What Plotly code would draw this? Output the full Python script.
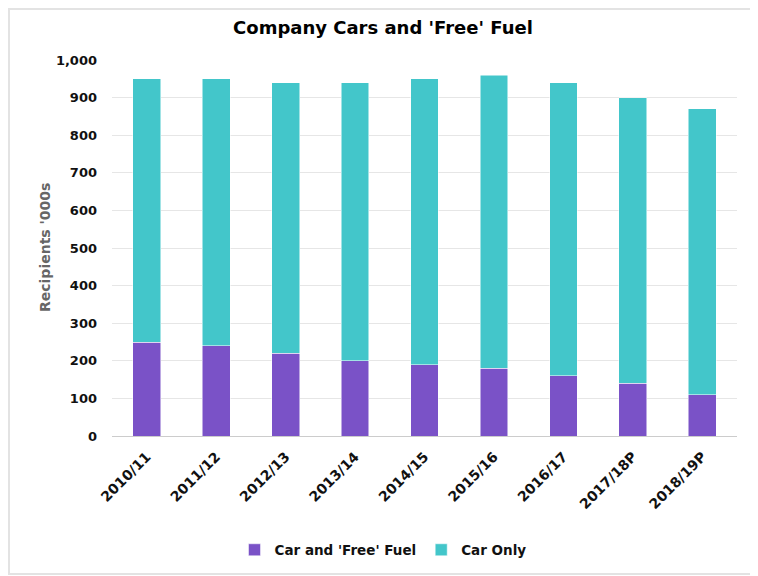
import plotly.graph_objects as go

categories = ["2010/11", "2011/12", "2012/13", "2013/14", "2014/15", "2015/16", "2016/17", "2017/18P", "2018/19P"]
car_and_fuel = [250, 240, 220, 200, 190, 180, 160, 140, 110]
car_only = [700, 710, 720, 740, 760, 780, 780, 760, 760]
y_ticks = [0, 100, 200, 300, 400, 500, 600, 700, 800, 900, 1000]

# page body adds an 8px offset, so the figure is sized to fit the window
W, H = 750, 568
L, R, T, B = 104, 21, 52, 140
pw = W - L - R
ph = H - T - B
FONT = "DejaVu Sans, sans-serif"

def px_x(x):
    return (x - L) / pw

def px_y(y):
    return (H - B - y) / ph

fig = go.Figure()
fig.add_trace(go.Bar(x=categories, y=car_and_fuel, name="Car and 'Free' Fuel",
                     marker=dict(color="#7a52c7", line=dict(color="#ffffff", width=0.5))))
fig.add_trace(go.Bar(x=categories, y=car_only, name="Car Only",
                     marker=dict(color="#43c6ca", line=dict(color="#ffffff", width=0.5))))

fig.add_shape(type="rect", xref="paper", yref="paper",
              x0=px_x(1), x1=px_x(747), y0=px_y(566), y1=px_y(1),
              line=dict(color="#e3e3e3", width=2), layer="below")

fig.add_annotation(text="<b>Recipients '000s</b>", xref="paper", yref="paper",
                   x=px_x(37), y=0.5, xanchor="center", yanchor="middle",
                   textangle=-90, showarrow=False,
                   font=dict(family=FONT, size=14, color="#666666"))

fig.update_layout(
    width=W, height=H,
    barmode="stack", bargap=0.6,
    margin=dict(l=L, r=R, t=T, b=B, autoexpand=False),
    paper_bgcolor="white", plot_bgcolor="white",
    font=dict(family=FONT, color="#111111", size=13),
    title=dict(text="<b>Company Cars and 'Free' Fuel</b>", x=0.5, xanchor="center",
               y=1 - 20 / H, yanchor="middle", font=dict(family=FONT, size=18, color="#000000")),
    xaxis=dict(tickangle=-45, tickfont=dict(family=FONT, size=14, color="#111111", weight="bold"),
               showline=True, linecolor="#cccccc", linewidth=1, ticks="", showgrid=False,
               automargin=False, ticklabelstandoff=6),
    yaxis=dict(range=[0, 1000], tickvals=y_ticks, tickformat=",d",
               tickfont=dict(family=FONT, size=13, color="#111111", weight="bold"),
               gridcolor="#e6e6e6", gridwidth=1, zeroline=False, ticks="", automargin=False,
               ticklabelstandoff=14),
    legend=dict(orientation="h", xref="container", x=0.5, xanchor="center",
                y=-(542 - (H - B)) / ph, yanchor="middle",
                font=dict(family=FONT, size=13.5, color="#111111", weight="bold"),
                traceorder="normal", itemwidth=30),
)

fig.write_html("out.html")
